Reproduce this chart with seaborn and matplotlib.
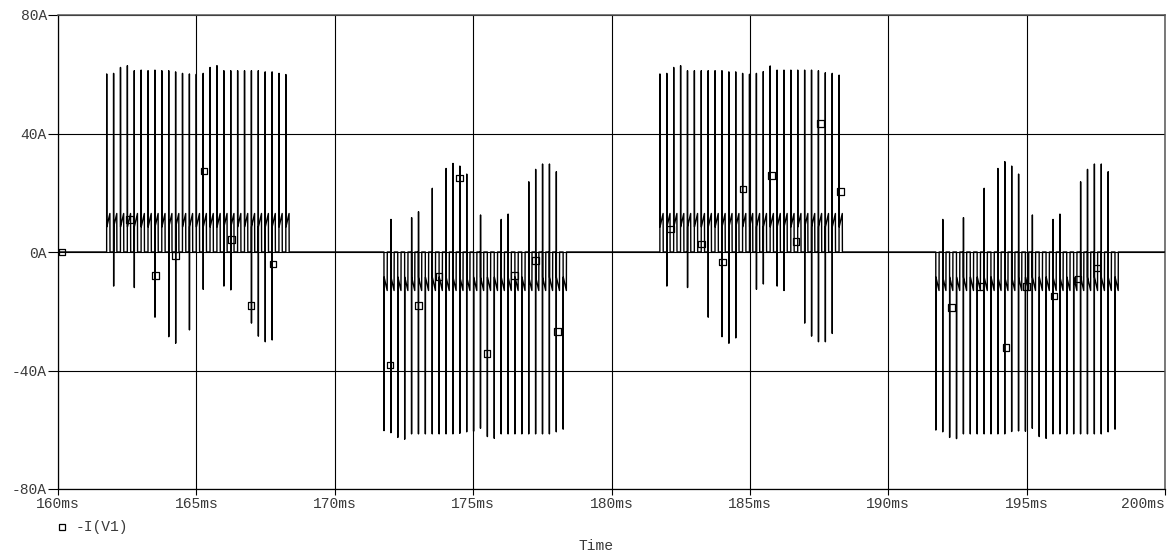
import numpy as np
import pandas as pd
import matplotlib
matplotlib.use("Agg")
import matplotlib.pyplot as plt
import seaborn as sns
from matplotlib.lines import Line2D

# ---------------- data ----------------
burst_starts = [161.76, 171.78, 181.75, 191.72]   # ms, first switching spike of each burst
burst_sign = [1, -1, 1, -1]
switch_period = 0.249                              # ms between switching spikes

burst1_peaks = [60.1, 60.3, 62.3, 62.9, 61.2, 61.4, 61.2, 61.4, 61.2, 61.2, 60.8, 60.3, 60.1,
                60.0, 60.3, 62.3, 62.9, 61.2, 61.2, 61.2, 61.2, 61.2, 61.2, 60.8, 60.8, 60.3, 59.9]
burst2_peaks = [-60.3, -61.0, -62.6, -63.2, -61.4, -61.4, -61.4, -61.4, -61.4, -61.4, -61.4, -61.2, -60.7,
                -60.5, -59.5, -62.3, -62.9, -61.4, -61.4, -61.4, -61.4, -61.4, -61.4, -61.4, -61.4, -60.7, -59.8]
burst3_peaks = [60.1, 60.3, 62.3, 62.9, 61.2, 61.2, 61.2, 61.2, 61.2, 61.2, 60.8, 60.8, 60.3,
                60.0, 60.3, 60.9, 62.8, 61.4, 61.4, 61.4, 61.4, 61.4, 61.4, 61.2, 60.5, 60.3, 59.7]
burst4_peaks = [-60.1, -60.7, -62.6, -63.0, -61.4, -61.4, -61.4, -61.4, -61.4, -61.4, -61.4, -60.6, -60.4,
                -60.5, -59.5, -62.3, -62.9, -61.4, -61.4, -61.4, -61.4, -61.4, -61.4, -61.4, -61.4, -60.7, -59.8]

# reverse-polarity spikes: spike index -> current (A)
burst1_reverse = {1: -11.5, 4: -12.0, 7: -22.0, 9: -28.6, 10: -30.8, 12: -26.3,
                  14: -12.6, 17: -11.5, 18: -12.8, 21: -24.0, 22: -28.4, 23: -30.3, 24: -29.7}
burst2_reverse = {1: 11.0, 4: 11.6, 5: 13.6, 7: 21.5, 9: 28.2, 10: 29.9, 11: 29.0, 12: 26.3,
                  14: 12.5, 17: 11.0, 18: 12.8, 21: 23.7, 22: 27.9, 23: 29.7, 24: 29.7, 25: 27.1}
burst3_reverse = {1: -11.5, 4: -12.0, 7: -22.0, 9: -28.6, 10: -30.8, 11: -29.0,
                  14: -12.6, 15: -10.8, 17: -11.5, 18: -13.0, 21: -24.0, 22: -28.4, 23: -30.3, 24: -30.3, 25: -27.5}
burst4_reverse = {1: 11.0, 4: 11.6, 7: 21.5, 9: 28.2, 10: 30.5, 11: 29.0, 12: 26.3,
                  14: 12.5, 17: 11.0, 18: 12.8, 21: 23.7, 22: 27.9, 23: 29.7, 24: 29.7, 25: 27.1}

plateau_levels = [8.5, 13.0]                 # A, sawtooth between spikes
plateau_times = [0.004, 0.115, 0.119]        # ms after each spike

marker_t = [160.14, 162.58, 163.52, 164.24, 165.28, 166.26, 166.98, 167.76,
            172.00, 173.03, 173.76, 174.51, 175.50, 176.50, 177.25, 178.04,
            182.14, 183.26, 184.02, 184.76, 185.79, 186.66, 187.56, 188.28,
            192.29, 193.29, 194.25, 195.00, 195.99, 196.86, 197.54]
marker_i = [0.0, 11.0, -7.9, -1.2, 27.4, 4.3, -18.0, -4.0,
            -38.1, -18.0, -8.3, 25.0, -34.3, -7.9, -2.8, -26.8,
            7.7, 2.7, -3.3, 21.2, 25.8, 3.5, 43.4, 20.4,
            -18.8, -11.7, -32.3, -11.7, -14.9, -9.1, -5.4]

x_ticks = [160, 165, 170, 175, 180, 185, 190, 195, 200]
x_tick_labels = ["160ms", "165ms", "170ms", "175ms", "180ms", "185ms", "190ms", "195ms", "200ms"]
y_ticks = [-80, -40, 0, 40, 80]
y_tick_labels = ["-80A", "-40A", "0A", "40A", "80A"]
series_name = "-I(V1)"
x_title = "Time"

# ---------------- build the trace from the values ----------------
peaks_all = [burst1_peaks, burst2_peaks, burst3_peaks, burst4_peaks]
rev_all = [burst1_reverse, burst2_reverse, burst3_reverse, burst4_reverse]

t_pts = [160.0]
i_pts = [0.0]
for start, sign, peaks, rev in zip(burst_starts, burst_sign, peaks_all, rev_all):
    for k, pk in enumerate(peaks):
        t = start + k * switch_period
        t_pts += [t - 0.002, t]
        i_pts += [0.0, pk]
        if k in rev:
            t_pts.append(t + 0.002)
            i_pts.append(rev[k])
        t_pts += [t + dt for dt in plateau_times]
        i_pts += [sign * v for v in plateau_levels] + [0.0]
t_pts.append(200.0)
i_pts.append(0.0)

trace = pd.DataFrame({"t": t_pts, "i": i_pts})
marks = pd.DataFrame({"t": marker_t, "i": marker_i})

# ---------------- draw ----------------
sns.set_theme(style="white")
plt.rcParams["font.family"] = ["Liberation Mono", "DejaVu Sans Mono"]
text_color = "#3a3a3a"

fig = plt.figure(figsize=(11.74, 5.58), dpi=100)
ax = fig.add_axes([58 / 1174, 1 - 489 / 558, (1165 - 58) / 1174, (489 - 15) / 558])

sns.lineplot(data=trace, x="t", y="i", sort=False, estimator=None, color="black",
             linewidth=1.0, ax=ax, zorder=3)
sns.scatterplot(data=marks, x="t", y="i", marker="s", s=22, facecolor="none",
                edgecolor="black", linewidth=0.9, ax=ax, zorder=4)

ax.set_xlim(160, 200)
ax.set_ylim(-80, 80)
ax.set_xticks(x_ticks)
ax.set_xticklabels(x_tick_labels)
ax.set_yticks(y_ticks)
ax.set_yticklabels(y_tick_labels)
ax.set_xlabel("")
ax.set_ylabel("")
ax.grid(True, color="black", linewidth=0.8, zorder=1)
ax.set_axisbelow(True)
ax.tick_params(axis="y", direction="out", length=7, width=0.8, color="black",
               labelsize=10.5, labelcolor=text_color, pad=1, left=True)
ax.tick_params(axis="x", direction="out", length=4, width=0.8, color="black",
               labelsize=10.5, labelcolor=text_color, pad=2, bottom=True)
xlabels = ax.get_xticklabels()
xlabels[-1].set_horizontalalignment("right")
xlabels[-1].set_x(200)
for side in ["left", "bottom"]:
    ax.spines[side].set_color("black")
    ax.spines[side].set_linewidth(0.9)
for side in ["top", "right"]:
    ax.spines[side].set_color("#555555")
    ax.spines[side].set_linewidth(1.1)

# legend entry and axis title
fig.add_artist(Line2D([62 / 1174], [1 - 527 / 558], marker="s", markersize=4.5,
                      markerfacecolor="none", markeredgecolor="black",
                      markeredgewidth=0.9, linestyle="none", transform=fig.transFigure))
fig.text(76 / 1174, 1 - 527 / 558, series_name, ha="left", va="center",
         fontsize=10.5, color=text_color)
fig.text(596 / 1174, 1 - 546 / 558, x_title, ha="center", va="center",
         fontsize=10.5, color=text_color)

fig.savefig("out.png", dpi=100)
